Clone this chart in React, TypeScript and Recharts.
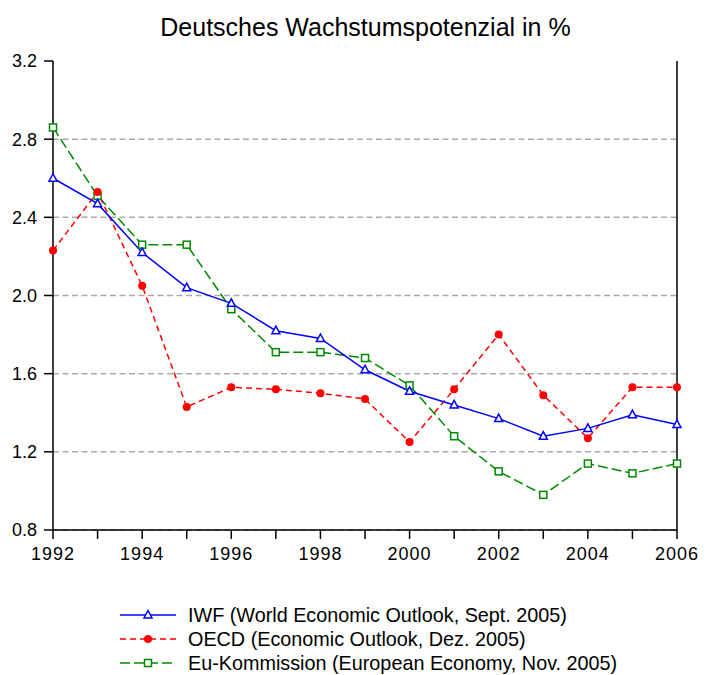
import React from "react";
import { LineChart, Line, XAxis, YAxis, CartesianGrid } from "recharts";

const years = [1992, 1993, 1994, 1995, 1996, 1997, 1998, 1999, 2000, 2001, 2002, 2003, 2004, 2005, 2006];
const iwf = [2.6, 2.47, 2.22, 2.04, 1.96, 1.82, 1.78, 1.62, 1.51, 1.44, 1.37, 1.28, 1.32, 1.39, 1.34];
const oecd = [2.23, 2.53, 2.05, 1.43, 1.53, 1.52, 1.5, 1.47, 1.25, 1.52, 1.8, 1.49, 1.27, 1.53, 1.53];
const euKom = [2.86, 2.51, 2.26, 2.26, 1.93, 1.71, 1.71, 1.68, 1.54, 1.28, 1.1, 0.98, 1.14, 1.09, 1.14];
const yTicks = [0.8, 1.2, 1.6, 2.0, 2.4, 2.8, 3.2];
const gridValues = [0.8, 1.2, 1.6, 2.0, 2.4, 2.8];

const legendItems = [
  { key: "iwf", label: "IWF (World Economic Outlook, Sept. 2005)" },
  { key: "oecd", label: "OECD (Economic Outlook, Dez. 2005)" },
  { key: "eu", label: "Eu-Kommission (European Economy, Nov. 2005)" },
];

const BLUE = "#0000ff";
const RED = "#ff0000";
const GREEN = "#008a00";
const FONT = "'Liberation Sans', Arial, sans-serif";

const data = years.map((y, i) => ({ year: y, iwf: iwf[i], oecd: oecd[i], eu: euKom[i] }));

function TriangleDot(props: any) {
  const { cx, cy, index } = props;
  if (cx == null || cy == null) return null;
  return (
    <polygon
      key={`t-${index}`}
      points={`${cx},${cy - 4.5} ${cx - 4},${cy + 3} ${cx + 4},${cy + 3}`}
      fill="#fff"
      stroke={BLUE}
      strokeWidth={1.5}
    />
  );
}

function SquareDot(props: any) {
  const { cx, cy, index } = props;
  if (cx == null || cy == null) return null;
  return <rect key={`s-${index}`} x={cx - 3.5} y={cy - 3.5} width={7} height={7} fill="#fff" stroke={GREEN} strokeWidth={1.5} />;
}

function LegendIcon({ kind }: { kind: string }) {
  return (
    <svg width={58} height={24} style={{ display: "block" }}>
      {kind === "iwf" && (
        <>
          <line x1={0} y1={12} x2={56} y2={12} stroke={BLUE} strokeWidth={1.5} />
          <TriangleDot cx={28} cy={12} index={0} />
        </>
      )}
      {kind === "oecd" && (
        <>
          <line x1={0} y1={12} x2={56} y2={12} stroke={RED} strokeWidth={1.5} strokeDasharray="6 4" />
          <circle cx={28} cy={12} r={4} fill={RED} />
        </>
      )}
      {kind === "eu" && (
        <>
          <line x1={0} y1={12} x2={56} y2={12} stroke={GREEN} strokeWidth={1.5} strokeDasharray="10 4" />
          <SquareDot cx={28} cy={12} index={0} />
        </>
      )}
    </svg>
  );
}

export default function App() {
  const yTickStyle = { fontSize: 18, fill: "#000", fontFamily: FONT };
  const xTickStyle = { fontSize: 18, fill: "#000", fontFamily: FONT, letterSpacing: 1 };
  return (
    <div style={{ position: "absolute", left: 0, top: 0, width: 722, height: 675, background: "#fff", overflow: "hidden", fontFamily: FONT }}>
      <div style={{ position: "absolute", left: 0, width: 731, top: 15, textAlign: "center", fontSize: 25, lineHeight: "25px", color: "#000" }}>
        Deutsches Wachstumspotenzial in %
      </div>
      <LineChart width={722} height={580} data={data} margin={{ top: 61, right: 0, bottom: 0, left: 0 }}>
        <CartesianGrid
          vertical={false}
          horizontalValues={gridValues}
          stroke="#aaaaaa"
          strokeWidth={1.5}
          strokeDasharray="6 3.5"
          yAxisId="left"
        />
        <XAxis
          dataKey="year"
          type="number"
          domain={[1992, 2006]}
          ticks={years}
          interval={0}
          tickFormatter={(v: number) => (v % 2 === 0 ? String(v) : "")}
          height={50}
          tickSize={9}
          tickMargin={8}
          axisLine={{ stroke: "#000", strokeWidth: 1.5 }}
          tickLine={{ stroke: "#000", strokeWidth: 1.5 }}
          tick={xTickStyle}
        />
        <YAxis
          yAxisId="left"
          domain={[0.8, 3.2]}
          ticks={yTicks}
          interval={0}
          tickFormatter={(v: number) => v.toFixed(1)}
          width={53}
          tickSize={9}
          tickMargin={7}
          axisLine={{ stroke: "#000", strokeWidth: 1.5 }}
          tickLine={{ stroke: "#000", strokeWidth: 1.5 }}
          tick={yTickStyle}
        />
        <YAxis
          yAxisId="right"
          orientation="right"
          domain={[0.8, 3.2]}
          ticks={yTicks}
          interval={0}
          tickFormatter={(v: number) => v.toFixed(1)}
          width={45}
          tickSize={9}
          tickMargin={7}
          axisLine={{ stroke: "#000", strokeWidth: 1.5 }}
          tickLine={{ stroke: "#000", strokeWidth: 1.5 }}
          tick={yTickStyle}
        />
        <Line
          yAxisId="left"
          type="linear"
          dataKey="eu"
          stroke={GREEN}
          strokeWidth={1.5}
          strokeDasharray="10 4"
          dot={SquareDot}
          activeDot={false}
          isAnimationActive={false}
        />
        <Line
          yAxisId="left"
          type="linear"
          dataKey="oecd"
          stroke={RED}
          strokeWidth={1.5}
          strokeDasharray="6 4"
          dot={{ r: 4, fill: RED, stroke: RED, strokeWidth: 0, strokeDasharray: "" }}
          activeDot={false}
          isAnimationActive={false}
        />
        <Line
          yAxisId="left"
          type="linear"
          dataKey="iwf"
          stroke={BLUE}
          strokeWidth={1.5}
          dot={TriangleDot}
          activeDot={false}
          isAnimationActive={false}
        />
      </LineChart>
      {legendItems.map((item, i) => (
        <div
          key={item.key}
          style={{
            position: "absolute",
            left: 120,
            top: 603 + i * 24,
            height: 24,
            display: "flex",
            alignItems: "center",
            fontSize: 19.8,
            lineHeight: "24px",
            whiteSpace: "nowrap",
            color: "#000",
          }}
        >
          <LegendIcon kind={item.key} />
          <span style={{ marginLeft: 10 }}>{item.label}</span>
        </div>
      ))}
    </div>
  );
}
